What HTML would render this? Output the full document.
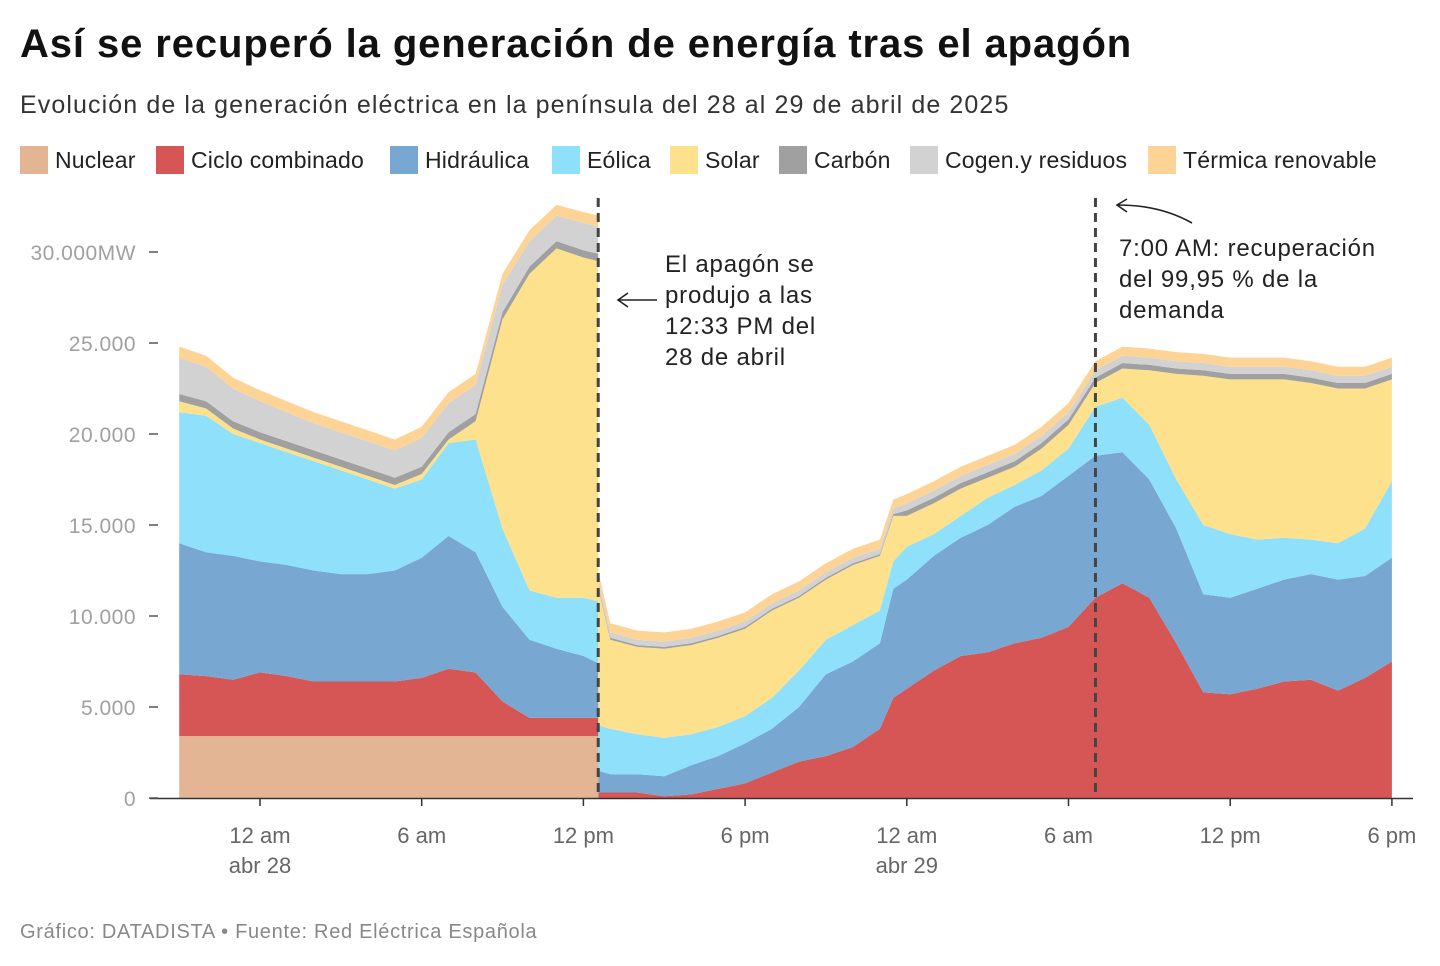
<!DOCTYPE html>
<html><head><meta charset="utf-8">
<style>
body{margin:0;background:#fff;font-family:"Liberation Sans",sans-serif;}
#wrap{position:relative;width:1440px;height:966px;overflow:hidden;}
.t{position:absolute;white-space:nowrap;}
</style></head>
<body><div id="wrap">
<div class="t" style="left:20px;top:22px;font-size:40px;font-weight:bold;color:#111;letter-spacing:0.9px;">Así se recuperó la generación de energía tras el apagón</div>
<div class="t" style="left:20px;top:91px;font-size:25px;color:#333;letter-spacing:1.1px;">Evolución de la generación eléctrica en la península del 28 al 29 de abril de 2025</div>
<svg id="chart" width="1440" height="966" style="position:absolute;left:0;top:0;"></svg>
<div class="t" style="left:20px;top:921px;font-size:20px;color:#888;letter-spacing:0.7px;">Gráfico: DATADISTA • Fuente: Red Eléctrica Española</div>
</div>
<script>
const times=[-3,-2,-1,0,1,2,3,4,5,6,7,8,9,10,11,12,12.55,12.56,13,14,15,16,17,18,19,20,21,22,23,23.5,24,25,26,27,28,29,30,31,32,33,34,35,36,37,38,39,40,41,42];
const nuclear=[3400,3400,3400,3400,3400,3400,3400,3400,3400,3400,3400,3400,3400,3400,3400,3400,3400,0,0,0,0,0,0,0,0,0,0,0,0,0,0,0,0,0,0,0,0,0,0,0,0,0,0,0,0,0,0,0,0];
const ciclo=[3400,3300,3100,3500,3300,3000,3000,3000,3000,3200,3700,3500,1900,1000,1000,1000,1000,300,300,300,100,200,500,800,1400,2000,2300,2800,3800,5500,6000,7000,7800,8000,8500,8800,9400,11000,11800,11000,8500,5800,5700,6000,6400,6500,5900,6600,7500];
const hidraulica=[7200,6800,6800,6100,6100,6100,5900,5900,6100,6600,7300,6600,5200,4300,3800,3400,3000,1200,1000,1000,1100,1600,1800,2200,2400,3000,4500,4700,4700,6000,6000,6300,6500,7000,7500,7800,8300,7800,7200,6500,6300,5400,5300,5500,5600,5800,6100,5600,5700];
const eolica=[7200,7500,6700,6500,6200,6000,5700,5200,4500,4300,5100,6200,4300,2700,2800,3200,3400,2500,2500,2200,2100,1700,1600,1500,1700,2000,1900,2000,1800,1500,1800,1200,1200,1500,1200,1400,1500,2700,3000,3000,2700,3800,3500,2700,2300,1900,2000,2600,4200];
const solar=[600,400,300,200,200,200,200,200,200,300,200,1000,11500,17400,19200,18700,18700,7500,4900,4800,4900,4900,4900,4800,4800,4000,3300,3300,3000,2500,1700,1700,1500,1100,1000,1200,1300,1300,1600,3000,5800,8200,8500,8800,8700,8600,8500,7700,5600];
const carbon=[400,400,400,400,400,400,400,400,400,400,400,400,400,400,400,400,400,100,100,100,100,100,100,100,100,100,100,100,100,100,300,300,300,300,300,300,300,300,300,300,300,300,300,300,300,300,300,300,300];
const cogen=[2000,1900,1800,1700,1600,1500,1500,1500,1500,1600,1600,1600,1500,1400,1400,1500,1500,300,300,300,300,300,300,300,300,300,300,300,300,300,400,400,400,400,400,400,400,400,400,400,400,400,400,400,400,400,400,400,400];
const termica=[600,600,600,600,600,600,600,600,600,600,600,600,600,600,600,600,600,500,500,500,500,500,500,500,500,500,500,500,500,500,500,500,500,500,500,500,500,500,500,500,500,500,500,500,500,500,500,500,500];
const seriesNames=["Nuclear","Ciclo combinado","Hidráulica","Eólica","Solar","Carbón","Cogen.y residuos","Térmica renovable"];
const seriesColors=["#e4b594","#d65656","#78a7d1","#8fe0fb","#fde18d","#a0a0a0","#d2d2d2","#fdd496"];
const yTicks=[0,5000,10000,15000,20000,25000,30000];
const yTickLabels=["0","5.000","10.000","15.000","20.000","25.000","30.000MW"];
const xTicks=[0,6,12,18,24,30,36,42];
const xTickLabels=["12 am","6 am","12 pm","6 pm","12 am","6 am","12 pm","6 pm"];
const xTickSub=["abr 28","","","","abr 29","","",""];
const events=[12.55,31];

const NS="http://www.w3.org/2000/svg";
const svg=document.getElementById('chart');
const X=t=>260+t*26.95;
const Y=v=>798-v*0.0182;
function mk(tag,attrs,parent){const e=document.createElementNS(NS,tag);for(const k in attrs)e.setAttribute(k,attrs[k]);(parent||svg).appendChild(e);return e;}

const all=[nuclear,ciclo,hidraulica,eolica,solar,carbon,cogen,termica];
let base=times.map(()=>0);
all.forEach((s,i)=>{
  const top=base.map((b,j)=>b+s[j]);
  let d="M"+times.map((t,j)=>X(t).toFixed(1)+","+Y(top[j]).toFixed(1)).join("L");
  for(let j=times.length-1;j>=0;j--)d+="L"+X(times[j]).toFixed(1)+","+Y(base[j]).toFixed(1);
  d+="Z";
  const p=mk('path',{d:d,fill:seriesColors[i]});
  
  
  base=top;
});

const ax=mk('line',{x1:150,x2:1413,y1:798.5,y2:798.5,stroke:'#333','stroke-width':1.5});


yTicks.forEach((v,i)=>{
  const tk=mk('line',{x1:149,x2:158,y1:Y(v),y2:Y(v),stroke:'#555','stroke-width':1.5});
  
  
  const tx=mk('text',{x:136,y:Y(v)+8,'text-anchor':'end','font-size':21,fill:'#a0a0a0','font-family':'Liberation Sans, sans-serif','letter-spacing':0.5});
  tx.textContent=yTickLabels[i];
  
  
});
xTicks.forEach((t,i)=>{
  const tk=mk('line',{x1:X(t),x2:X(t),y1:798,y2:806,stroke:'#333','stroke-width':1.5});
  
  
  const tx=mk('text',{x:X(t),y:843,'text-anchor':'middle','font-size':22,fill:'#666','font-family':'Liberation Sans, sans-serif'});
  tx.textContent=xTickLabels[i];
  
  
  if(xTickSub[i]){
    const s=mk('text',{x:X(t),y:873,'text-anchor':'middle','font-size':22,fill:'#666','font-family':'Liberation Sans, sans-serif'});
    s.textContent=xTickSub[i];
    
    
  }
});
events.forEach(t=>{
  const l=mk('line',{x1:X(t),x2:X(t),y1:198,y2:798,stroke:'#444','stroke-width':3,'stroke-dasharray':'9,6'});
  
  
});
function ann(lines,x,y0,dy,name){
  const g=mk('text',{x:x,y:y0,'font-size':24,fill:'#222','font-family':'Liberation Sans, sans-serif','letter-spacing':0.8});
  
  
  lines.forEach((s,i)=>{const ts=mk('tspan',{x:x,y:y0+i*dy},g);ts.textContent=s;});
}
ann(["El apagón se","produjo a las","12:33 PM del","28 de abril"],665,272,31,'annotation-blackout');
ann(["7:00 AM: recuperación","del 99,95 % de la","demanda"],1119,256,31,'annotation-recovery');
const a1=mk('path',{d:'M657,300 L619,300 M628,293 L618,300 L628,307',stroke:'#222','stroke-width':1.6,fill:'none'});


const a2=mk('path',{d:'M1192,223 Q1160,205 1118,205 M1127,199 L1117,205 L1127,212',stroke:'#222','stroke-width':1.6,fill:'none'});



const legX=[20,156,390,552,670,779,910,1148];
seriesNames.forEach((n,i)=>{
  const r=mk('rect',{x:legX[i],y:146,width:28,height:28,fill:seriesColors[i]});
  
  
  const t=mk('text',{x:legX[i]+35,y:168,'font-size':23,fill:'#222','font-family':'Liberation Sans, sans-serif','letter-spacing':0.2});
  t.textContent=n;
  
  
});
</script>
</body></html>
